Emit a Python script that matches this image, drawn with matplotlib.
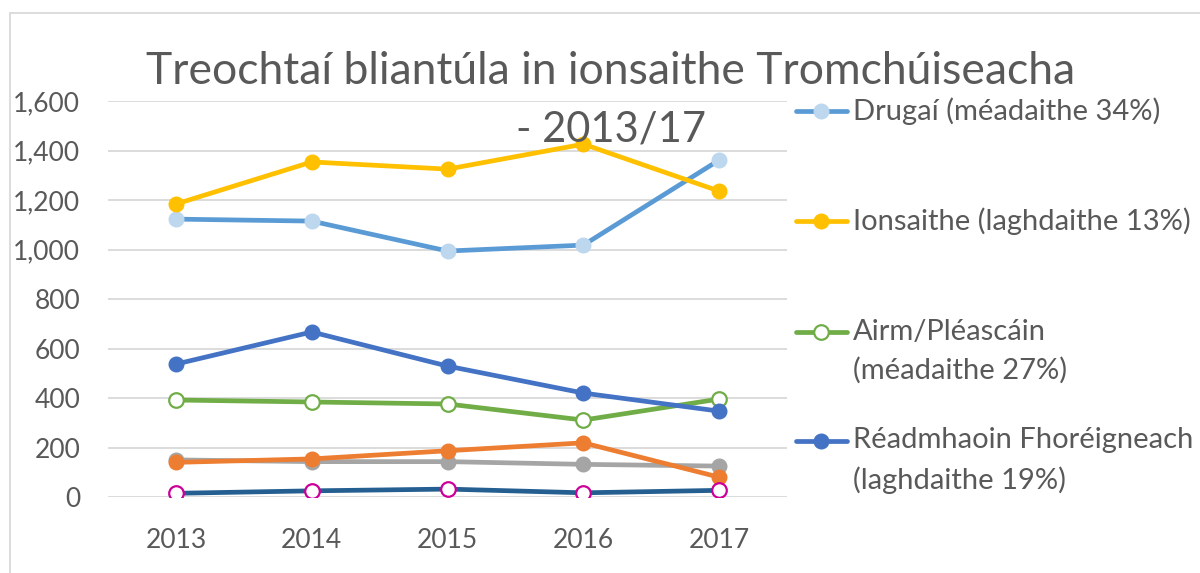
import matplotlib.pyplot as plt
from matplotlib.lines import Line2D
from matplotlib.patches import Rectangle

plt.rcParams['font.family'] = ['Lato', 'DejaVu Sans']

# data
years = ['2013', '2014', '2015', '2016', '2017']
drugai = [1123, 1115, 994, 1018, 1362]
ionsaithe = [1184, 1354, 1325, 1426, 1236]
airm = [392, 384, 376, 311, 396]
readmhaoin = [537, 667, 529, 420, 347]
orange_series = [140, 154, 187, 219, 80]
grey_series = [150, 143, 143, 132, 125]
darkblue_series = [15, 25, 32, 17, 27]

title_line1 = 'Treochtaí bliantúla in ionsaithe Tromchúiseacha'
title_line2 = '- 2013/17'
legend_labels = ['Drugaí (méadaithe 34%)',
                 'Ionsaithe (laghdaithe 13%)',
                 'Airm/Pléascáin\n(méadaithe 27%)',
                 'Réadmhaoin Fhoréigneach\n(laghdaithe 19%)']

TXT = '#595959'
GRID = '#D9D9D9'

fig = plt.figure(figsize=(12, 5.73), dpi=100)
ax = fig.add_axes([0.09, 0.1326, 0.566, 0.691])

x = range(len(years))
common = dict(lw=3.4, marker='o', markersize=10.5, solid_capstyle='round')

ax.plot(x, grey_series, color='#A5A5A5', mfc='#A5A5A5', mec='#A5A5A5', **common)
ax.plot(x, orange_series, color='#ED7D31', mfc='#ED7D31', mec='#ED7D31', **common)
ax.plot(x, darkblue_series, color='#255E91', mfc='white', mec='#CC0099',
        mew=1.6, **common)
h_airm, = ax.plot(x, airm, color='#70AD47', mfc='white', mec='#70AD47',
                  mew=1.6, **common)
h_read, = ax.plot(x, readmhaoin, color='#4472C4', mfc='#4472C4', mec='#4472C4',
                  **common)
h_drug, = ax.plot(x, drugai, color='#5B9BD5', mfc='#BDD7EE', mec='#BDD7EE',
                  **common)
h_ions, = ax.plot(x, ionsaithe, color='#FFC000', mfc='#FFC000', mec='#FFC000',
                  **common)

ax.set_xlim(-0.5, len(years) - 0.5)
ax.set_ylim(0, 1600)
ax.set_yticks(range(0, 1601, 200))
ax.set_yticklabels([f'{v:,}' for v in range(0, 1601, 200)])
ax.set_xticks(list(x))
ax.set_xticklabels(years)
ax.grid(axis='y', color=GRID, lw=1.3)
ax.set_axisbelow(True)
for s in ax.spines.values():
    s.set_visible(False)
ax.tick_params(axis='both', length=0, labelsize=19, colors=TXT)
ax.tick_params(axis='y', pad=20)
ax.tick_params(axis='x', pad=22)

# title
fig.text(0.509, 0.875, title_line1, ha='center', va='center',
         fontsize=32, color=TXT)
fig.text(0.509, 0.774, title_line2, ha='center', va='center',
         fontsize=30, color=TXT)

# legend drawn by hand so the marker lines up with the first text line
leg_handles = [h_drug, h_ions, h_airm, h_read]
leg_y = [0.806, 0.614, 0.420, 0.230]
for h, lab, yy in zip(leg_handles, legend_labels, leg_y):
    fig.add_artist(Line2D([0.663, 0.706], [yy, yy], color=h.get_color(),
                          lw=3.4, solid_capstyle='round'))
    fig.add_artist(Line2D([0.6845], [yy], marker='o', markersize=10.5,
                          mfc=h.get_markerfacecolor(), mec=h.get_markeredgecolor(),
                          mew=h.get_markeredgewidth()))
    fig.text(0.711, yy + 0.024, lab, ha='left', va='top', fontsize=21,
             color=TXT, linespacing=1.58)

# chart border
fig.add_artist(Rectangle((10 / 1200, -0.05), 1.2, (573 - 13) / 573 + 0.05,
                         transform=fig.transFigure, fill=False,
                         edgecolor=GRID, lw=1.3))

fig.savefig('out.png', dpi=100)
